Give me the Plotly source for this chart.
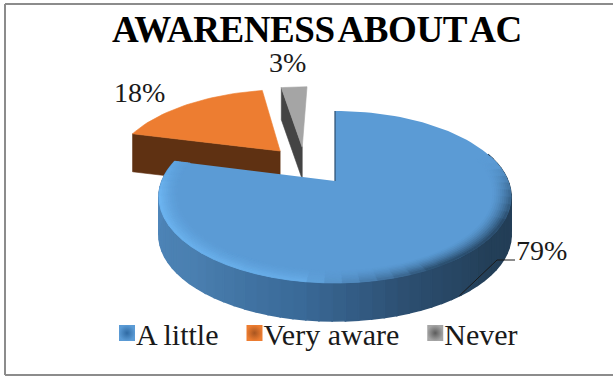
import math
import plotly.graph_objects as go

# ---- data ----
categories = ["A little", "Very aware", "Never"]
values = [79, 18, 3]
labels_pct = ["79%", "18%", "3%"]
title_text = "AWARENESS ABOUT AC"

# ---- style / geometry ----
W, H = 613, 376
CX, CY = 335, 181
R, Q, K = 173, 83, 0.186
THICK = 38
EXPLODE = [(0, 0), (-0.34, 0.3875), (-0.205, 0.44)]
TOP = ["#5b9bd5", "#ed7d31", "#a5a5a5"]
SIDE = ["#264560", "#5f3112", "#444444"]
LEG = ["#2f6aa3", "#a85520", "#5c5c5c"]
LEG_OUT = ["#5b9bd5", "#ed7d31", "#a5a5a5"]
SERIF = "Liberation Serif, Times New Roman, serif"


def project(theta, r=1.0, off=(0, 0)):
    a = math.radians(theta)
    x = r * math.sin(a) + off[0]
    y = r * math.cos(a) + off[1]
    s = 1 / (1 + K * y)
    return CX + R * x * s, CY - Q * y * s


def hex2rgb(c):
    return tuple(int(c[i:i + 2], 16) for i in (1, 3, 5))


def mix_rgb(a, b, t):
    t = max(0, min(1, t))
    return tuple(a[i] + (b[i] - a[i]) * t for i in range(3))


def css(c):
    return "rgb(%d,%d,%d)" % tuple(round(v) for v in c)


def ramp(stops, v):
    """Colour (as an rgb tuple) at position v along a list of (position, hex) stops."""
    if v <= stops[0][0]:
        return hex2rgb(stops[0][1])
    for (a, ca), (b, cb) in zip(stops, stops[1:]):
        if a <= v <= b:
            return mix_rgb(hex2rgb(ca), hex2rgb(cb), (v - a) / (b - a))
    return hex2rgb(stops[-1][1])


fig = go.Figure()


def poly(pts, color, lw=0.6):
    fig.add_trace(go.Scatter(
        x=[p[0] for p in pts] + [pts[0][0]], y=[p[1] for p in pts] + [pts[0][1]],
        mode="lines", fill="toself", fillcolor=color,
        line=dict(color=color, width=lw), showlegend=False, hoverinfo="skip"))


total = sum(values)
angles = [0]
for v in values:
    angles.append(angles[-1] + 360 * v / total)


def arc(a0, a1, n, r=1.0, off=(0, 0)):
    return [project(a0 + (a1 - a0) * i / n, r, off) for i in range(n + 1)]


# orange slice
off = EXPLODE[1]
apex = project(0, 0, off)
c0 = project(angles[1], 1, off)
poly([c0, apex, (apex[0], apex[1] + THICK), (c0[0], c0[1] + THICK)], SIDE[1])
poly([apex] + arc(angles[1], angles[2], 30, 1, off), TOP[1])

# grey slice
off = EXPLODE[2]
apex = project(0, 0, off)
c0 = project(angles[2], 1, off)
poly([c0, apex, (apex[0], apex[1] + THICK - 6), (c0[0], c0[1] + THICK - 6)], SIDE[2])
poly([apex] + arc(angles[2], angles[3], 10, 1, off), TOP[2])

# blue slice: shaded outer wall
wall_stops = [(60, "#223c54"), (130, "#233f58"), (160, "#2c4e70"), (190, "#3a6a98"),
              (225, "#4a7fb0"), (285, "#5088bd")]
N = 60
a0, a1 = 70, angles[1]
for i in range(N):
    t0 = a0 + (a1 - a0) * i / N
    t1 = a0 + (a1 - a0) * (i + 1) / N
    p0, p1 = project(t0), project(t1)
    poly([p0, p1, (p1[0], p1[1] + THICK), (p0[0], p0[1] + THICK)],
         css(ramp(wall_stops, (t0 + t1) / 2)), 1.6)

# blue slice: top face
apex = project(0, 0)
poly([apex] + arc(0, angles[1], 120), TOP[0], 0)
poly([apex, project(0)], "#2c4e70", 1.2)

# blue slice: rim bevel
rim_stops = [(78, "#5b9bd5"), (98, "#3f6e99"), (118, "#2a4c6c"), (150, "#2c5070"),
             (175, "#4f87bb"), (190, "#66abe6"), (260, "#6cb4f0"), (284.4, "#5fa3df")]
RINGS = 9
M = 44
a0, a1 = 72, angles[1]
for k in range(RINGS):
    r0 = 0.90 + 0.10 * k / RINGS
    r1 = 0.90 + 0.10 * (k + 1) / RINGS
    w = ((k + 1) / RINGS) ** 1.5
    for i in range(M):
        t0 = a0 + (a1 - a0) * i / M
        t1 = a0 + (a1 - a0) * (i + 1) / M
        base = ramp(rim_stops, (t0 + t1) / 2)
        poly([project(t0, r0), project(t1, r0), project(t1, r1), project(t0, r1)],
             css(mix_rgb(hex2rgb(TOP[0]), base, w)), 0.9)

# leader line for the largest slice
mid = (angles[0] + angles[1]) / 2
lp = project(mid)
fig.add_trace(go.Scatter(x=[lp[0], 497, 515], y=[lp[1] + THICK, 260, 260], mode="lines",
                         line=dict(color="#1a1a1a", width=1), showlegend=False, hoverinfo="skip"))

# legend entries
for name, col, out in zip(categories, LEG, LEG_OUT):
    fig.add_trace(go.Scatter(
        x=[None], y=[None], mode="markers", name=name,
        marker=dict(symbol="square", size=16, color=out,
                    gradient=dict(type="radial", color=col)),
        hoverinfo="skip"))

label_pos = [(541, 250), (139, 92), (287, 62)]
annotations = [dict(x=x, y=y, text=t, showarrow=False, xref="x", yref="y",
                    font=dict(family=SERIF, size=28, color="#1a1a1a"))
               for t, (x, y) in zip(labels_pct, label_pos)]

border = [dict(x0=5, x1=W, y0=4, y1=4), dict(x0=5, x1=5, y0=4, y1=375), dict(x0=5, x1=W, y0=375, y1=375)]
shapes = [dict(type="line", xref="x", yref="y", line=dict(color="#8c8c8c", width=2), **b) for b in border]

fig.update_layout(
    width=W, height=H, margin=dict(l=0, r=0, t=0, b=0),
    paper_bgcolor="white", plot_bgcolor="white",
    xaxis=dict(range=[0, W], visible=False, fixedrange=True),
    yaxis=dict(range=[H, 0], visible=False, fixedrange=True),
    title=dict(text=title_text, x=317 / W, xanchor="center", y=1 - 29 / H, yanchor="middle",
               font=dict(family=SERIF, size=37, color="#000000", weight="bold")),
    legend=dict(orientation="h", x=96 / W, xanchor="left", y=1 - 333 / H, yanchor="middle",
                font=dict(family=SERIF, size=30, color="#1a1a1a"),
                bgcolor="rgba(0,0,0,0)", itemwidth=30),
    annotations=annotations, shapes=shapes,
)

post = """
document.body.style.margin = '0';
document.querySelectorAll('.gtitle').forEach(function (t) {
  t.style.letterSpacing = '-0.4px';
  t.style.wordSpacing = '-4px';
});
document.querySelectorAll('.legendpoints').forEach(function (p) {
  p.setAttribute('transform', 'translate(11,0)');
});
"""
fig.write_html("out.html", config=dict(displayModeBar=False), post_script=post)
